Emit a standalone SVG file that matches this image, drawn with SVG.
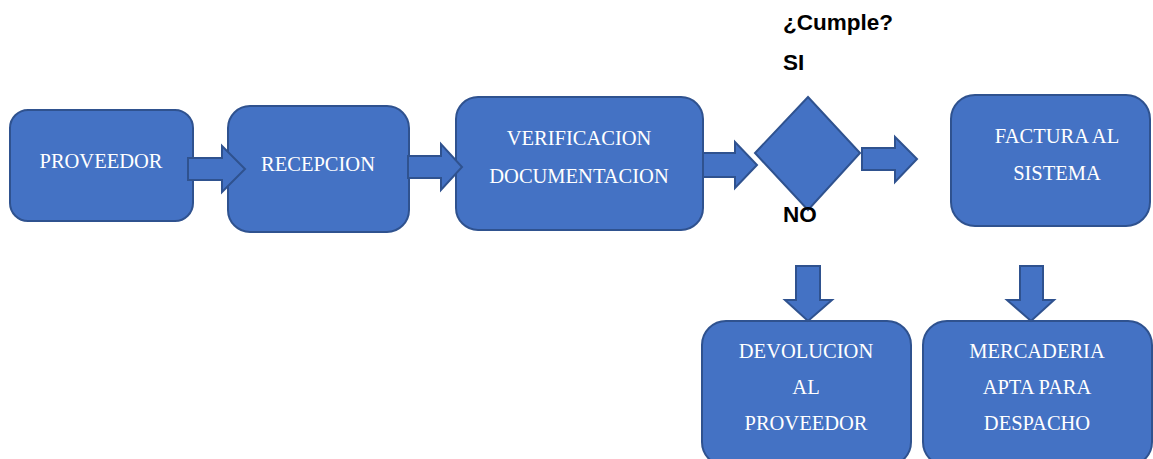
<svg xmlns="http://www.w3.org/2000/svg" width="1153" height="459" viewBox="0 0 1153 459">
<style>
.box{fill:#4472C4;stroke:#2F528F;stroke-width:2}
.t{font-family:"Liberation Serif","Times New Roman",serif;font-size:20.5px;fill:#FFFFFF;text-anchor:middle}
.b{font-family:"Liberation Sans",Arial,sans-serif;font-size:22.5px;font-weight:bold;fill:#000000}
</style>
<rect width="1153" height="459" fill="#FFFFFF"/>
<g id="proveedor">
<rect class="box" x="10" y="110" width="183" height="111" rx="18"/>
<text class="t" x="101" y="168">PROVEEDOR</text>
</g>
<g id="recepcion">
<rect class="box" x="228" y="106" width="181" height="126" rx="22"/>
<text class="t" x="318" y="171">RECEPCION</text>
</g>
<g id="verificacion">
<rect class="box" x="456" y="97" width="247" height="133" rx="22"/>
<text class="t" x="579" y="145">VERIFICACION</text>
<text class="t" x="579" y="183">DOCUMENTACION</text>
</g>
<g id="decision">
<polygon class="box" points="808,97 860,153 808,210 755,153"/>
<text class="b" x="783" y="30">¿Cumple?</text>
<text class="b" x="783" y="70">SI</text>
<text class="b" x="783" y="222">NO</text>
</g>
<g id="factura">
<rect class="box" x="951" y="95" width="199" height="131" rx="24"/>
<text class="t" x="1057" y="143">FACTURA AL</text>
<text class="t" x="1057" y="180">SISTEMA</text>
</g>
<g id="devolucion">
<rect class="box" x="702" y="321" width="209" height="145" rx="24"/>
<text class="t" x="806" y="358">DEVOLUCION</text>
<text class="t" x="806" y="394">AL</text>
<text class="t" x="806" y="430">PROVEEDOR</text>
</g>
<g id="mercaderia">
<rect class="box" x="923" y="321" width="229" height="145" rx="24"/>
<text class="t" x="1037" y="358">MERCADERIA</text>
<text class="t" x="1037" y="394">APTA PARA</text>
<text class="t" x="1037" y="430">DESPACHO</text>
</g>
<g id="connectors">
<polygon class="box" points="188,158 222,158 222,146 245,169 222,192 222,180 188,180"/>
<polygon class="box" points="408,156 441,156 441,144 462,167 441,190 441,178 408,178"/>
<polygon class="box" points="703,153 735,153 735,142 757,165 735,188 735,177 703,177"/>
<polygon class="box" points="862,148 895,148 895,137 917,159 895,182 895,170 862,170"/>
<polygon class="box" points="796,266 820,266 820,300 832,300 808,321 785,300 796,300"/>
<polygon class="box" points="1020,266 1043,266 1043,300 1054,300 1031,321 1007,300 1020,300"/>
</g>
</svg>
